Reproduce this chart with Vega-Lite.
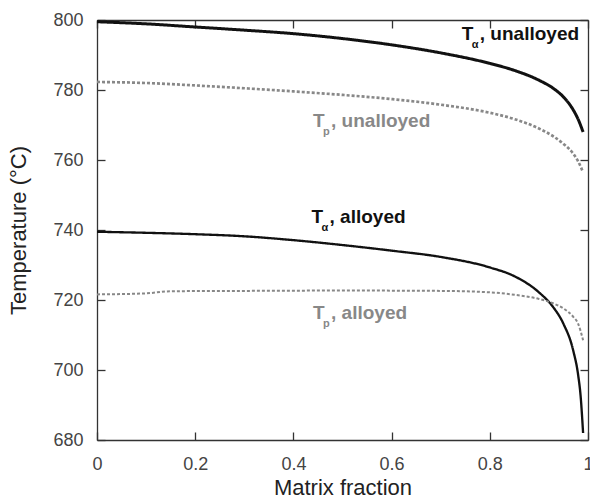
{
  "$schema": "https://vega.github.io/schema/vega-lite/v6.json",
  "width": 491,
  "height": 420,
  "autosize": "none",
  "padding": {"left": 97, "top": 20, "right": 2, "bottom": 62},
  "config": {
    "font": "Liberation Sans",
    "view": {"stroke": null},
    "axis": {"grid": false, "domainColor": "#333", "tickColor": "#333", "labelFont": "Liberation Sans", "titleFont": "Liberation Sans", "labelFontSize": 18, "labelColor": "#444", "titleFontSize": 22, "titleFontWeight": "normal", "titleColor": "#222", "domainWidth": 1.3, "tickWidth": 1.3}
  },
  "datasets": {
    "curves": [
      {"s": "Ta_un", "f": 0.0, "t": 799.5}, {"s": "Ta_un", "f": 0.1, "t": 798.9}, {"s": "Ta_un", "f": 0.2, "t": 798.0}, {"s": "Ta_un", "f": 0.3, "t": 797.1}, {"s": "Ta_un", "f": 0.4, "t": 796.1}, {"s": "Ta_un", "f": 0.5, "t": 794.7}, {"s": "Ta_un", "f": 0.6, "t": 792.9}, {"s": "Ta_un", "f": 0.7, "t": 790.6}, {"s": "Ta_un", "f": 0.8, "t": 787.6}, {"s": "Ta_un", "f": 0.85, "t": 785.6}, {"s": "Ta_un", "f": 0.9, "t": 782.8}, {"s": "Ta_un", "f": 0.93, "t": 780.4}, {"s": "Ta_un", "f": 0.95, "t": 778.0}, {"s": "Ta_un", "f": 0.97, "t": 774.3}, {"s": "Ta_un", "f": 0.98, "t": 771.6}, {"s": "Ta_un", "f": 0.99, "t": 768.0},
      {"s": "Tp_un", "f": 0.0, "t": 782.3}, {"s": "Tp_un", "f": 0.1, "t": 782.0}, {"s": "Tp_un", "f": 0.2, "t": 781.3}, {"s": "Tp_un", "f": 0.3, "t": 780.5}, {"s": "Tp_un", "f": 0.4, "t": 779.6}, {"s": "Tp_un", "f": 0.5, "t": 778.6}, {"s": "Tp_un", "f": 0.6, "t": 777.4}, {"s": "Tp_un", "f": 0.7, "t": 775.8}, {"s": "Tp_un", "f": 0.8, "t": 773.5}, {"s": "Tp_un", "f": 0.85, "t": 771.7}, {"s": "Tp_un", "f": 0.9, "t": 769.0}, {"s": "Tp_un", "f": 0.93, "t": 766.7}, {"s": "Tp_un", "f": 0.95, "t": 764.6}, {"s": "Tp_un", "f": 0.97, "t": 761.8}, {"s": "Tp_un", "f": 0.98, "t": 759.6}, {"s": "Tp_un", "f": 0.99, "t": 756.5},
      {"s": "Ta_al", "f": 0.0, "t": 739.5}, {"s": "Ta_al", "f": 0.1, "t": 739.2}, {"s": "Ta_al", "f": 0.2, "t": 738.8}, {"s": "Ta_al", "f": 0.3, "t": 738.2}, {"s": "Ta_al", "f": 0.4, "t": 737.1}, {"s": "Ta_al", "f": 0.5, "t": 735.7}, {"s": "Ta_al", "f": 0.6, "t": 734.1}, {"s": "Ta_al", "f": 0.7, "t": 732.3}, {"s": "Ta_al", "f": 0.8, "t": 729.3}, {"s": "Ta_al", "f": 0.85, "t": 726.8}, {"s": "Ta_al", "f": 0.9, "t": 722.2}, {"s": "Ta_al", "f": 0.93, "t": 717.8}, {"s": "Ta_al", "f": 0.95, "t": 713.2}, {"s": "Ta_al", "f": 0.97, "t": 705.5}, {"s": "Ta_al", "f": 0.98, "t": 698.5}, {"s": "Ta_al", "f": 0.985, "t": 692.5}, {"s": "Ta_al", "f": 0.99, "t": 682.0},
      {"s": "Tp_al", "f": 0.0, "t": 721.6}, {"s": "Tp_al", "f": 0.1, "t": 721.9}, {"s": "Tp_al", "f": 0.15, "t": 722.5}, {"s": "Tp_al", "f": 0.3, "t": 722.6}, {"s": "Tp_al", "f": 0.5, "t": 722.7}, {"s": "Tp_al", "f": 0.7, "t": 722.6}, {"s": "Tp_al", "f": 0.8, "t": 722.2}, {"s": "Tp_al", "f": 0.85, "t": 721.5}, {"s": "Tp_al", "f": 0.9, "t": 720.3}, {"s": "Tp_al", "f": 0.93, "t": 719.0}, {"s": "Tp_al", "f": 0.95, "t": 717.6}, {"s": "Tp_al", "f": 0.97, "t": 715.2}, {"s": "Tp_al", "f": 0.98, "t": 713.2}, {"s": "Tp_al", "f": 0.99, "t": 708.5}
    ],
    "labels": [
      {"s": "Ta_un", "f": 0.743, "t": 794.3, "sub": "α", "rest": ", unalloyed", "c": "#111"},
      {"s": "Tp_un", "f": 0.44, "t": 769.4, "sub": "p", "rest": ", unalloyed", "c": "#888"},
      {"s": "Ta_al", "f": 0.437, "t": 742.1, "sub": "α", "rest": ", alloyed", "c": "#111"},
      {"s": "Tp_al", "f": 0.44, "t": 714.5, "sub": "p", "rest": ", alloyed", "c": "#888"}
    ]
  },
  "resolve": {"axis": {"x": "independent", "y": "independent"}},
  "layer": [
    {
      "data": {"name": "curves"},
      "mark": {"type": "line", "interpolate": "monotone"},
      "encoding": {
        "x": {"field": "f", "type": "quantitative", "scale": {"domain": [0, 1], "nice": false}, "axis": {"orient": "bottom", "title": "Matrix fraction", "values": [0, 0.2, 0.4, 0.6, 0.8, 1], "format": "~g", "tickSize": -8, "labelPadding": 23, "titlePadding": 4, "labelFlush": false}},
        "y": {"field": "t", "type": "quantitative", "scale": {"domain": [680, 800], "nice": false, "zero": false}, "axis": {"orient": "left", "title": "Temperature (°C)", "values": [680, 700, 720, 740, 760, 780, 800], "tickSize": -8, "labelPadding": 22, "titlePadding": 22, "labelFlush": false}},
        "detail": {"field": "s"},
        "color": {"field": "s", "type": "nominal", "scale": {"domain": ["Ta_un", "Tp_un", "Ta_al", "Tp_al"], "range": ["#111", "#888", "#111", "#888"]}, "legend": null},
        "strokeDash": {"field": "s", "type": "nominal", "scale": {"domain": ["Ta_un", "Tp_un", "Ta_al", "Tp_al"], "range": [[1, 0], [3, 2], [1, 0], [3, 2]]}, "legend": null},
        "strokeWidth": {"field": "s", "type": "nominal", "scale": {"domain": ["Ta_un", "Tp_un", "Ta_al", "Tp_al"], "range": [3, 2, 2.6, 2]}, "legend": null}
      }
    },
    {
      "data": {"name": "labels"},
      "mark": {"type": "text", "align": "left", "baseline": "alphabetic", "fontSize": 19, "fontWeight": "bold", "font": "Liberation Sans"},
      "encoding": {
        "x": {"field": "f", "type": "quantitative", "axis": {"orient": "top", "labels": false, "title": null, "values": [0, 0.2, 0.4, 0.6, 0.8, 1], "tickSize": -8, "domain": true}},
        "y": {"field": "t", "type": "quantitative", "axis": {"orient": "right", "labels": false, "title": null, "values": [680, 700, 720, 740, 760, 780, 800], "tickSize": -8, "domain": true}},
        "text": {"value": "T"},
        "color": {"field": "c", "type": "nominal", "scale": null}
      }
    },
    {
      "data": {"name": "labels"},
      "mark": {"type": "text", "align": "left", "baseline": "alphabetic", "fontSize": 11, "fontWeight": "bold", "font": "Liberation Sans", "dx": 10, "dy": 8},
      "encoding": {
        "x": {"field": "f", "type": "quantitative", "axis": null},
        "y": {"field": "t", "type": "quantitative", "axis": null},
        "text": {"field": "sub"},
        "color": {"field": "c", "type": "nominal", "scale": null}
      }
    },
    {
      "data": {"name": "labels"},
      "mark": {"type": "text", "align": "left", "baseline": "alphabetic", "fontSize": 19, "fontWeight": "bold", "font": "Liberation Sans", "dx": 18},
      "encoding": {
        "x": {"field": "f", "type": "quantitative", "axis": null},
        "y": {"field": "t", "type": "quantitative", "axis": null},
        "text": {"field": "rest"},
        "color": {"field": "c", "type": "nominal", "scale": null}
      }
    }
  ]
}
